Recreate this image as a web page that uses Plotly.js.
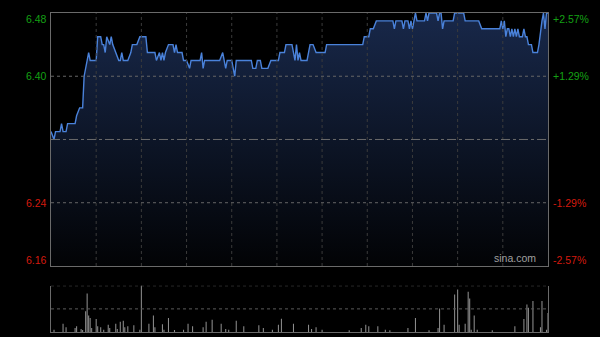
<!DOCTYPE html>
<html>
<head>
<meta charset="utf-8">
<script src="https://cdn.plot.ly/plotly-3.0.1.min.js"></script>
<style>
html,body{margin:0;padding:0;background:#000;}
#chart{width:600px;height:337px;}
</style>
</head>
<body>
<div id="chart"></div>
<script>
// minutes from market open (0..330) and price
const minutes = [0,2,3,6,7,8,10,11,16,17,19,21,22,23,25,26,30,31,33,34,35,36,37,39,40,41,43,45,46,47,48,51,53,54,57,59,63,64,69,70,72,73,74,75,76,78,81,82,83,84,87,88,90,92,93,99,100,101,102,112,114,115,116,117,120,121,122,123,133,134,136,137,139,140,144,146,151,152,155,156,160,162,163,164,165,166,170,172,174,176,182,183,207,208,211,212,214,216,227,228,229,233,234,235,237,238,239,240,242,243,248,249,250,251,256,257,258,259,260,261,267,268,274,275,284,286,298,299,300,301,302,303,304,305,306,307,308,309,310,311,313,314,315,316,317,319,320,323,324,326,327,328,329,330];
const prices  = [6.33,6.32,6.33,6.33,6.34,6.33,6.33,6.34,6.34,6.35,6.36,6.36,6.40,6.41,6.43,6.42,6.42,6.45,6.45,6.44,6.44,6.43,6.45,6.44,6.45,6.44,6.43,6.42,6.42,6.43,6.42,6.42,6.43,6.44,6.44,6.45,6.45,6.43,6.43,6.42,6.43,6.42,6.43,6.42,6.43,6.44,6.44,6.43,6.44,6.43,6.43,6.42,6.42,6.41,6.42,6.42,6.43,6.41,6.42,6.42,6.43,6.42,6.41,6.42,6.42,6.41,6.40,6.42,6.42,6.41,6.41,6.42,6.42,6.41,6.41,6.42,6.42,6.43,6.43,6.44,6.44,6.42,6.44,6.42,6.43,6.42,6.42,6.44,6.44,6.43,6.43,6.44,6.44,6.45,6.45,6.46,6.46,6.47,6.47,6.46,6.47,6.47,6.46,6.47,6.47,6.46,6.47,6.46,6.48,6.47,6.47,6.48,6.47,6.48,6.48,6.47,6.48,6.48,6.46,6.47,6.47,6.48,6.48,6.47,6.47,6.46,6.46,6.47,6.46,6.47,6.45,6.46,6.46,6.45,6.46,6.45,6.46,6.45,6.46,6.45,6.45,6.46,6.45,6.45,6.44,6.44,6.43,6.43,6.44,6.47,6.48,6.46,6.48,6.48];

const volMinutes = [2,8,10,16,17,20,21,23,24,25,26,27,30,31,33,35,38,39,43,44,46,48,49,51,55,59,60,65,68,69,74,75,78,82,88,91,94,101,103,107,113,116,118,123,128,138,141,147,151,153,161,171,173,176,180,198,206,209,211,217,222,225,237,242,251,257,258,261,268,270,271,275,277,278,279,281,283,293,308,314,316,317,320,325,326,329,330];
const volumes    = [2.3,8.3,4.7,4,5.7,3,2,20.7,38.3,16.3,14,4,13,5.7,4.7,2.3,7.3,4,8.3,3,10.3,11.3,4.7,5.7,6.7,2.3,60,8.3,16.3,4.7,7.7,2.3,14,2,2.3,8.3,5.7,4.7,10.3,12.3,8.3,3,2.3,11.3,5.7,6.7,4,2.3,7.3,13.3,8.3,7.3,3,4.7,2.3,1.7,4,7.3,5.7,5.7,2.3,1.7,4,14,1.7,4,23.3,7.3,37.3,42.3,7.3,8.3,40,33.3,2.3,16.3,2.3,1.7,5.7,13,27.3,24,30.7,4.7,30.7,2.3,19];

const prevClose = 6.32;
const priceTicks = [6.48, 6.40, 6.24, 6.16];
const priceTickText = ['6.48', '6.40', '6.24', '6.16'];
const pctTickText = ['+2.57%', '+1.29%', '-1.29%', '-2.57%'];
const timeGrid = [30, 60, 90, 120, 150, 180, 210, 240, 270, 300];
const priceGrid = [6.40, 6.24];

const UP = '#14a014', DOWN = '#d41a0e';

const traces = [
  {
    x: minutes, y: prices, type: 'scatter', mode: 'lines',
    line: {color: '#4a82da', width: 1.4},
    fill: 'tozeroy',
    fillgradient: {type: 'vertical', start: 6.16, stop: 6.48,
      colorscale: [[0, '#020305'], [1, '#18284a']]},
    xaxis: 'x', yaxis: 'y', hoverinfo: 'skip'
  },
  {
    x: volMinutes, y: volumes, type: 'bar', width: 0.7,
    marker: {color: '#8c8c8c', line: {width: 0}},
    xaxis: 'x2', yaxis: 'y2', hoverinfo: 'skip'
  }
];

const annotations = [];
priceTicks.forEach((p, i) => {
  const shift = i === 0 ? -6 : (i === priceTicks.length - 1 ? 6 : 0);
  const col = p > prevClose ? UP : DOWN;
  annotations.push({xref: 'paper', yref: 'y', x: 0, y: p, xanchor: 'right', yanchor: 'middle',
    xshift: -2, yshift: shift, showarrow: false, text: priceTickText[i],
    font: {family: 'Liberation Sans, Arial, sans-serif', size: 10.5, color: col}});
  annotations.push({xref: 'paper', yref: 'y', x: 1, y: p, xanchor: 'left', yanchor: 'middle',
    xshift: 3, yshift: shift, showarrow: false, text: pctTickText[i],
    font: {family: 'Liberation Sans, Arial, sans-serif', size: 10.5, color: col}});
});
annotations.push({xref: 'paper', yref: 'y', x: 0.98, y: 6.16, xanchor: 'right', yanchor: 'bottom',
  showarrow: false, text: 'sina.com',
  font: {family: 'Liberation Sans, Arial, sans-serif', size: 10.5, color: '#a0a0a0'}});

const shapes = [];
timeGrid.forEach(t => shapes.push({type: 'line', xref: 'x', yref: 'y domain', x0: t, x1: t, y0: 0, y1: 1,
  layer: 'above', line: {color: '#3c3c3c', width: 1, dash: 'dot'}}));
priceGrid.forEach(p => shapes.push({type: 'line', xref: 'paper', yref: 'y', x0: 0, x1: 1, y0: p, y1: p,
  layer: 'above', line: {color: '#666666', width: 1, dash: 'dot'}}));
shapes.push({type: 'line', xref: 'paper', yref: 'y', x0: 0, x1: 1, y0: prevClose, y1: prevClose,
  layer: 'above', line: {color: '#6a6a6a', width: 1, dash: 'dashdot'}});
shapes.push({type: 'line', xref: 'paper', yref: 'y2', x0: 0, x1: 1, y0: 46, y1: 46,
  line: {color: '#5a5a5a', width: 1, dash: 'dot'}});
shapes.push({type: 'line', xref: 'paper', yref: 'y2', x0: 0, x1: 1, y0: 23, y1: 23,
  line: {color: '#5a5a5a', width: 1, dash: 'dot'}});

const layout = {
  width: 600, height: 337,
  margin: {l: 51, r: 52, t: 13, b: 5, pad: 0},
  paper_bgcolor: '#000', plot_bgcolor: '#000',
  showlegend: false,
  xaxis: {domain: [0, 1], range: [0, 330], showticklabels: false, ticks: '',
    showgrid: false, zeroline: false,
    showline: true, mirror: true, linecolor: '#6a6a6a', linewidth: 1, fixedrange: true, layer: 'above traces'},
  yaxis: {domain: [0.207, 1], range: [6.16, 6.48], showticklabels: false, ticks: '',
    showgrid: false, zeroline: false,
    showline: true, mirror: true, linecolor: '#6a6a6a', linewidth: 1, fixedrange: true, layer: 'above traces'},
  xaxis2: {domain: [0, 1], range: [0, 330], anchor: 'y2', showticklabels: false, ticks: '', showgrid: false,
    zeroline: false, showline: true, linecolor: '#6a6a6a', linewidth: 1, fixedrange: true},
  yaxis2: {domain: [0, 0.145], range: [0, 46], anchor: 'x2', showticklabels: false, ticks: '',
    showgrid: false, zeroline: false,
    showline: true, mirror: true, linecolor: '#6a6a6a', linewidth: 1, fixedrange: true},
  shapes: shapes,
  annotations: annotations
};

Plotly.newPlot('chart', traces, layout, {displayModeBar: false, staticPlot: true});
</script>
</body>
</html>
